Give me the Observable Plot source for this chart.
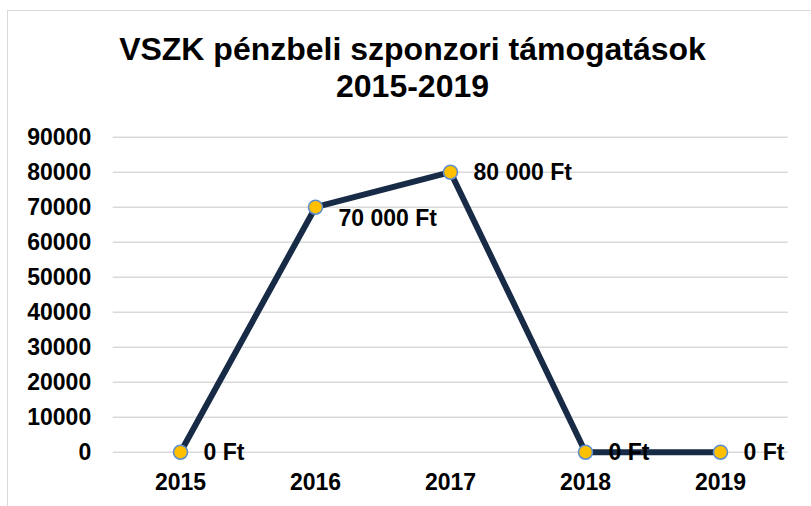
<!DOCTYPE html>
<html>
<head>
<meta charset="utf-8">
<script src="https://cdn.jsdelivr.net/npm/d3@7"></script>
<script src="https://cdn.jsdelivr.net/npm/@observablehq/plot@0.6"></script>
<style>
  html, body { margin: 0; padding: 0; background: #fff; overflow: hidden; width: 811px; height: 506px; }
  #wrap { position: relative; width: 811px; height: 506px; font-family: "Liberation Sans", Arial, sans-serif; }
  #frame { position: absolute; left: 7px; top: 10px; width: 900px; height: 600px; border: 1.5px solid #d9d9d9; box-sizing: border-box; pointer-events: none; }
  #title { height: 110px; box-sizing: border-box; padding-top: 31px; padding-left: 14px; text-align: center; font-weight: bold; font-size: 32px; line-height: 37px; color: #000; }
  #chart svg { display: block; }
</style>
</head>
<body>
<div id="wrap">
  <div id="frame"></div>
  <div id="title">VSZK pénzbeli szponzori támogatások<br>2015-2019</div>
  <div id="chart"></div>
</div>
<script>
const years = ["2015", "2016", "2017", "2018", "2019"];
const values = [0, 70000, 80000, 0, 0];
const labels = ["0 Ft", "70 000 Ft", "80 000 Ft", "0 Ft", "0 Ft"];
const yTicks = [0, 10000, 20000, 30000, 40000, 50000, 60000, 70000, 80000, 90000];

const data = years.map((y, i) => ({year: y, value: values[i], label: labels[i]}));

const chart = Plot.plot({
  width: 811,
  height: 396,
  marginTop: 26.7,
  marginBottom: 54.3,
  marginLeft: 112.7,
  marginRight: 23.3,
  style: {fontFamily: '"Liberation Sans", Arial, sans-serif', fontSize: "23px", fontWeight: "bold", color: "#000", background: "transparent"},
  x: {type: "point", domain: years, padding: 0.5, label: null},
  y: {domain: [0, 90000], ticks: yTicks, label: null, tickFormat: d3.format("d")},
  marks: [
    Plot.gridY(yTicks, {stroke: "#d9d9d9", strokeOpacity: 1, strokeWidth: 1.5}),
    Plot.axisY({ticks: yTicks, tickSize: 0, tickPadding: 22, tickFormat: d3.format("d"), label: null, fill: "#000", fontSize: 23}),
    Plot.axisX({tickSize: 0, tickPadding: 21, label: null, fill: "#000", fontSize: 23}),
    Plot.line(data, {x: "year", y: "value", stroke: "#172a46", strokeWidth: 6, strokeLinejoin: "round", strokeLinecap: "round"}),
    Plot.dot(data, {x: "year", y: "value", r: 7, fill: "#ffc000", stroke: "#5b8dd0", strokeWidth: 1.6}),
    Plot.text(data, {x: "year", y: "value", text: "label", textAnchor: "start", dx: 23,
      dy: 0, fill: "#000", fontSize: 23, fontWeight: "bold",
      filter: d => d.year !== "2016"}),
    Plot.text(data, {x: "year", y: "value", text: "label", textAnchor: "start", dx: 23,
      dy: 11, fill: "#000", fontSize: 23, fontWeight: "bold",
      filter: d => d.year === "2016"})
  ]
});
document.getElementById("chart").appendChild(chart);
</script>
</body>
</html>
